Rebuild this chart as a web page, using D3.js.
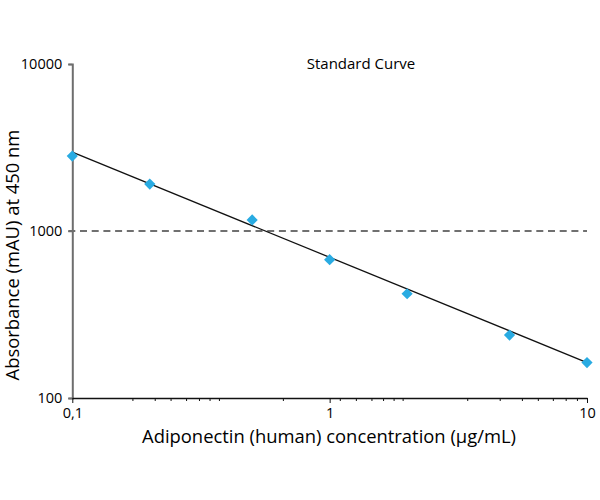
<!DOCTYPE html>
<html>
<head>
<meta charset="utf-8">
<script src="https://cdn.jsdelivr.net/npm/d3@7"></script>
<style>
    body { margin: 0; background: #fff; }
    svg { display: block; font-family: "Open Sans", sans-serif; }
</style>
</head>
<body>
<svg id="chart" width="600" height="500"></svg>
<script>
// measured standards (concentration in µg/mL, absorbance in mAU)
const concentrations = [0.1, 0.2, 0.5, 1, 2, 5, 10];
const absorbances = [2810, 1910, 1165, 673, 421, 238, 163];

// ends of the fitted line as drawn in the picture
const fitX = [0.1, 10];
const fitY = [2970, 163];

// cut-off level shown by the dashed line
const cutoff = 1000;

const xTicks = [0.1, 1, 10];
const xTickLabels = ["0,1", "1", "10"];
// minor ticks (they are not evenly placed there)
const xMinorTicks = [0.172, 0.21, 0.242, 0.278, 0.312, 0.343, 0.373, 0.661,
    1.1, 1.27, 1.46, 1.62, 1.78, 1.93, 3.44, 4.6, 5.61, 6.47, 7.4, 8.3, 9.18];
const yTicks = [100, 1000, 10000];
const yTickLabels = ["100", "1000", "10000"];

const title = "Standard Curve";
const xTitle = "Adiponectin (human) concentration (µg/mL)";
const yTitle = "Absorbance (mAU) at 450 nm";

const markerColor = "#29abe2";

const plotLeft = 72.3, plotRight = 587, plotTop = 64, plotBottom = 398;

let svg = d3.select("#chart");

let x = d3.scaleLog().domain([0.1, 10]).range([plotLeft, plotRight]);
let y = d3.scaleLog().domain([100, 10000]).range([plotBottom, plotTop]);

// dashed cut-off line
svg.append("line")
    .attr("x1", plotLeft - 4)
    .attr("x2", plotRight)
    .attr("y1", y(cutoff))
    .attr("y2", y(cutoff))
    .attr("stroke", "#707070")
    .attr("stroke-width", 2)
    .attr("stroke-dasharray", "7,4.7");

// y axis (grey, ticks pointing left)
let yAxis = svg.append("g")
    .attr("transform", "translate(" + plotLeft + ",0)")
    .call(d3.axisLeft(y)
        .tickValues(yTicks)
        .tickFormat(function (d, i) { return yTickLabels[i]; })
        .tickSize(4)
        .tickPadding(6));
yAxis.select(".domain").attr("stroke", "#6e6e6e").attr("stroke-width", 2);
yAxis.selectAll(".tick line").attr("stroke", "#6e6e6e").attr("stroke-width", 1.5);
yAxis.selectAll("text")
    .attr("font-size", 14.5)
    .attr("font-family", "Open Sans, sans-serif")
    .attr("fill", "#000");

// x axis (black, minor ticks below)
let xAxis = svg.append("g")
    .attr("transform", "translate(0," + plotBottom + ")")
    .call(d3.axisBottom(x)
        .tickValues(xTicks)
        .tickFormat(function (d, i) { return xTickLabels[i]; })
        .tickSize(5)
        .tickSizeOuter(0)
        .tickPadding(5));
xAxis.select(".domain").attr("stroke", "#111").attr("stroke-width", 1.5);
xAxis.selectAll(".tick line").attr("stroke", "#111");
xAxis.selectAll("text")
    .attr("font-size", 14.5)
    .attr("font-family", "Open Sans, sans-serif")
    .attr("fill", "#000");

xAxis.selectAll(".minor")
    .data(xMinorTicks)
    .enter().append("line")
    .attr("class", "minor")
    .attr("x1", function (d) { return x(d); })
    .attr("x2", function (d) { return x(d); })
    .attr("y1", 0)
    .attr("y2", 3)
    .attr("stroke", "#111")
    .attr("stroke-width", 1);

// fitted line
svg.append("line")
    .attr("x1", x(fitX[0]))
    .attr("y1", y(fitY[0]))
    .attr("x2", x(fitX[1]))
    .attr("y2", y(fitY[1]))
    .attr("stroke", "#111")
    .attr("stroke-width", 1.3);

// diamond markers
let diamond = d3.symbol().type(d3.symbolDiamond2).size(80);
svg.selectAll(".point")
    .data(concentrations)
    .enter().append("path")
    .attr("class", "point")
    .attr("d", diamond)
    .attr("transform", function (d, i) {
        return "translate(" + x(d) + "," + y(absorbances[i]) + ")";
    })
    .attr("fill", markerColor);

// titles
svg.append("text")
    .attr("x", 361)
    .attr("y", 68.5)
    .attr("text-anchor", "middle")
    .attr("font-size", 15)
    .attr("fill", "#000")
    .text(title);

svg.append("text")
    .attr("x", 329)
    .attr("y", 443)
    .attr("text-anchor", "middle")
    .attr("font-size", 18.4)
    .attr("fill", "#000")
    .text(xTitle);

svg.append("text")
    .attr("transform", "translate(19,255) rotate(-90)")
    .attr("text-anchor", "middle")
    .attr("font-size", 18.4)
    .attr("fill", "#000")
    .text(yTitle);
</script>
</body>
</html>
